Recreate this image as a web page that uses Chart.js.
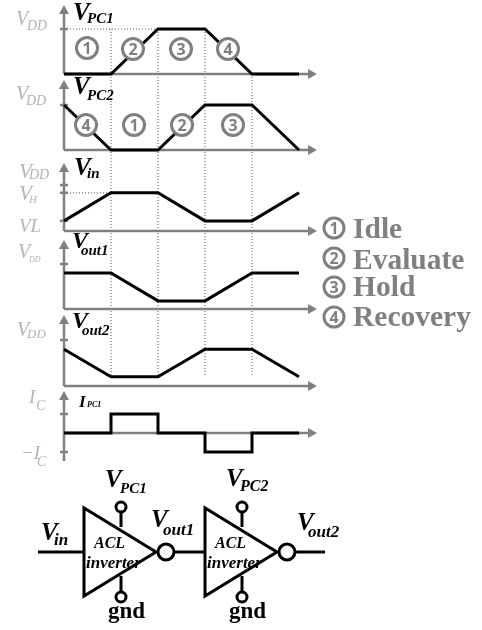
<!DOCTYPE html>
<html>
<head>
<meta charset="utf-8">
<style>
  html, body { margin: 0; padding: 0; background: #fff; }
  canvas { display: block; }
</style>
<script src="https://cdn.jsdelivr.net/npm/chart.js@4/dist/chart.umd.min.js"></script>
</head>
<body>
<canvas id="timing" width="482" height="630"></canvas>
<script>
// phase boundaries
const times = [0, 1, 2, 3, 4, 5];

// waveforms, in units of VDD (IPC1 in units of IC)
const vpc1 = [0, 0, 1, 1, 0, 0];
const vpc2 = [1, 0, 0, 1, 1, 0];
const vin = [0.22, 0.83, 0.83, 0.22, 0.22, 0.83];
const vout1 = [0.8, 0.8, 0.18, 0.18, 0.8, 0.8];
const vout2 = [0.8, 0.2, 0.2, 0.8, 0.8, 0.2];
const ipc1 = [0, 1, 0, -1, 0, 0];

const vinTicks = [1, 0.83, 0.22];
const currentTicks = [1, -1];

const W = 482, H = 630;
const GREY = '#808080', LIGHT = '#b4b4b4', BLACK = '#000';
const SERIF = '"Liberation Serif", serif';
const SANS = '"Open Sans", sans-serif';

// where each panel sits on the page: baseline px, px per unit, top of the arrow
const panels = {
  y1: { base: 74, unit: 45, top: 5, ticks: [1] },
  y2: { base: 150, unit: 45, top: 80, ticks: [1] },
  y3: { base: 231, unit: 46, top: 163, ticks: vinTicks },
  y4: { base: 309, unit: 45, top: 240, ticks: [1] },
  y5: { base: 386, unit: 46, top: 315, ticks: [1] },
  y6: { base: 433, unit: 19, top: 391, bottom: 461, ticks: currentTicks }
};

function yScale(p) {
  return { display: false, min: (p.base - H) / p.unit, max: p.base / p.unit };
}

function wave(values, yAxisID, stepped) {
  return {
    data: times.map((t, i) => ({ x: t, y: values[i] })),
    yAxisID: yAxisID,
    stepped: stepped || false,
    borderColor: BLACK,
    borderWidth: 3,
    borderJoinStyle: 'miter',
    borderCapStyle: 'butt',
    pointRadius: 0,
    fill: false,
    tension: 0
  };
}

// [main, sub, x, baseline, main font, sub font, sub dx, sub dy, colour]
const BI = 'italic bold ', IT = 'italic ';
const labels = [
  ['V', 'DD', 16, 25, IT + '20px', IT + '14px', 11, 5, LIGHT],
  ['V', 'PC1', 73, 20, BI + '25px', BI + '15px', 14, 3, BLACK],
  ['V', 'DD', 16, 100, IT + '20px', IT + '14px', 10, 5, LIGHT],
  ['V', 'PC2', 73, 94, BI + '25px', BI + '15px', 14, 6, BLACK],
  ['V', 'DD', 19, 178, IT + '21px', IT + '14px', 10, 1, LIGHT],
  ['V', 'H', 19, 200, IT + '21px', IT + '11px', 10, 3, LIGHT],
  ['VL', '', 19, 232, IT + '19px', '', 0, 0, LIGHT],
  ['V', 'in', 74, 175, BI + '25px', BI + '15px', 13, 3, BLACK],
  ['V', 'DD', 18, 258, IT + '20px', IT + '8px', 11, 4, LIGHT],
  ['V', 'out1', 72, 248, BI + '24px', BI + '15px', 9, 7, BLACK],
  ['V', 'DD', 17, 336, IT + '20px', IT + '13px', 10, 2, LIGHT],
  ['V', 'out2', 72, 328, BI + '24px', BI + '15px', 10, 7, BLACK],
  ['I', 'C', 29, 403, IT + '19px', IT + '14px', 7, 7, LIGHT],
  ['\u2212I', 'C', 21, 459, IT + '19px', IT + '14px', 16, 7, LIGHT],
  ['I', 'PC1', 79, 407, BI + '17px', BI + '8px', 8, 0, BLACK],
  // schematic
  ['V', 'PC1', 105, 487, BI + '25px', BI + '15px', 15, 6, BLACK],
  ['V', 'PC2', 226, 486, BI + '25px', BI + '16px', 14, 5, BLACK],
  ['V', 'in', 41, 540, BI + '25px', BI + '17px', 13, 5, BLACK],
  ['V', 'out1', 151, 527, BI + '25px', BI + '17px', 12, 8, BLACK],
  ['V', 'out2', 297, 530, BI + '25px', BI + '17px', 11, 7, BLACK],
  ['ACL', '', 94, 548, BI + '16px', '', 0, 0, BLACK],
  ['ACL', '', 215, 548, BI + '16px', '', 0, 0, BLACK],
  ['inverter', '', 86, 568, BI + '17px', '', 0, 0, BLACK],
  ['inverter', '', 207, 568, BI + '17px', '', 0, 0, BLACK],
  ['gnd', '', 108, 618, 'bold 23px', '', 0, 0, BLACK],
  ['gnd', '', 229, 618, 'bold 23px', '', 0, 0, BLACK]
];

// circled phase numbers: [number, cx, cy, radius]
const phaseMarks = [
  ['1', 87, 48, 10.5], ['2', 133, 49, 10.5], ['3', 181, 49, 10.5], ['4', 228, 49, 10.5],
  ['4', 86, 125, 10.5], ['1', 134, 125, 10.5], ['2', 182, 125, 10.5], ['3', 233, 125, 10.5],
  ['1', 334, 228, 10], ['2', 334, 258, 10], ['3', 334, 287, 10], ['4', 334, 317, 10]
];

const legendNames = ['Idle', 'Evaluate', 'Hold', 'Recovery'];
const legendBaselines = [238, 269, 296, 326];

function segment(ctx, x0, y0, x1, y1) {
  ctx.beginPath();
  ctx.moveTo(x0, y0);
  ctx.lineTo(x1, y1);
  ctx.stroke();
}

function arrowHead(ctx, x, y, dx, dy) {
  ctx.beginPath();
  ctx.moveTo(x, y);
  ctx.lineTo(x - dx * 9 - dy * 5, y - dy * 9 - dx * 5);
  ctx.lineTo(x - dx * 9 + dy * 5, y - dy * 9 + dx * 5);
  ctx.closePath();
  ctx.fill();
}

const axesPlugin = {
  id: 'axes',
  beforeDatasetsDraw(chart) {
    const ctx = chart.ctx, x = chart.scales.x;
    const x0 = x.getPixelForValue(0);
    ctx.save();
    // dotted phase guides
    ctx.strokeStyle = '#555';
    ctx.lineWidth = 1;
    ctx.setLineDash([1, 2]);
    const yTop = chart.scales.y1.getPixelForValue(1);
    const yEnd = chart.scales.y5.getPixelForValue(0.2);
    [1, 2, 3].forEach(t => segment(ctx, x.getPixelForValue(t), yTop, x.getPixelForValue(t), yEnd));
    segment(ctx, x.getPixelForValue(4), chart.scales.y1.getPixelForValue(0), x.getPixelForValue(4), yEnd);
    segment(ctx, x0, yTop, x.getPixelForValue(2), yTop);
    const yH = chart.scales.y3.getPixelForValue(vin[1]);
    segment(ctx, x0, yH, x.getPixelForValue(1), yH);
    ctx.setLineDash([]);
    // panel axes
    ctx.strokeStyle = GREY;
    ctx.fillStyle = GREY;
    ctx.lineWidth = 2.5;
    const xEnd = 317;
    Object.keys(panels).forEach(id => {
      const p = panels[id], s = chart.scales[id];
      const base = s.getPixelForValue(0);
      segment(ctx, x0, p.top + 5, x0, p.bottom || base);
      segment(ctx, x0, base, xEnd - 5, base);
      arrowHead(ctx, x0, p.top, 0, -1);
      arrowHead(ctx, xEnd, base, 1, 0);
      p.ticks.forEach(v => {
        const py = s.getPixelForValue(v);
        segment(ctx, x0 - 4, py, x0 + 4, py);
      });
    });
    ctx.restore();
  },
  afterDraw(chart) {
    const ctx = chart.ctx;
    ctx.save();
    ctx.textBaseline = 'alphabetic';
    // circled numbers
    phaseMarks.forEach(m => {
      ctx.beginPath();
      ctx.arc(m[1], m[2], m[3], 0, Math.PI * 2);
      ctx.fillStyle = '#fff';
      ctx.fill();
      ctx.strokeStyle = GREY;
      ctx.lineWidth = 3;
      ctx.stroke();
      ctx.fillStyle = GREY;
      ctx.font = 'bold 16px ' + SANS;
      ctx.textAlign = 'center';
      ctx.fillText(m[0], m[1], m[2] + 5.5);
    });
    ctx.textAlign = 'left';
    // phase names
    ctx.fillStyle = GREY;
    ctx.font = 'bold 29.5px ' + SERIF;
    legendNames.forEach((name, i) => ctx.fillText(name, 353, legendBaselines[i]));
    drawInverter(ctx, 84, 121);
    drawInverter(ctx, 205, 242);
    ctx.strokeStyle = BLACK;
    ctx.lineWidth = 3;
    segment(ctx, 38, 552, 84, 552);
    segment(ctx, 174, 552, 205, 552);
    segment(ctx, 295, 552, 325, 552);
    // text labels
    labels.forEach(l => {
      ctx.fillStyle = l[8];
      ctx.font = l[4] + ' ' + SERIF;
      ctx.fillText(l[0], l[2], l[3]);
      if (l[1]) {
        ctx.font = l[5] + ' ' + SERIF;
        ctx.fillText(l[1], l[2] + l[6], l[3] + l[7]);
      }
    });
    ctx.restore();
  }
};

// triangle, output bubble and supply pins of one ACL inverter
function drawInverter(ctx, left, pinX) {
  ctx.strokeStyle = BLACK;
  ctx.fillStyle = '#fff';
  ctx.lineWidth = 3;
  ctx.lineJoin = 'miter';
  segment(ctx, pinX, 512, pinX, 527);
  segment(ctx, pinX, 576, pinX, 592);
  ctx.beginPath();
  ctx.moveTo(left, 508);
  ctx.lineTo(left, 596);
  ctx.lineTo(left + 72, 552);
  ctx.closePath();
  ctx.stroke();
  [[left + 82, 552, 8], [pinX, 507, 5], [pinX, 597, 5]].forEach(c => {
    ctx.beginPath();
    ctx.arc(c[0], c[1], c[2], 0, Math.PI * 2);
    ctx.fill();
    ctx.stroke();
  });
}

new Chart(document.getElementById('timing'), {
  type: 'line',
  data: {
    datasets: [
      wave(vpc1, 'y1'),
      wave(vpc2, 'y2'),
      wave(vin, 'y3'),
      wave(vout1, 'y4'),
      wave(vout2, 'y5'),
      wave(ipc1, 'y6', true)
    ]
  },
  options: {
    responsive: false,
    animation: false,
    parsing: false,
    layout: { padding: 0 },
    plugins: { legend: { display: false }, tooltip: { enabled: false }, title: { display: false } },
    scales: {
      // 47 px per phase, t = 0 at x = 64
      x: { type: 'linear', display: false, min: -64 / 47, max: (W - 64) / 47 },
      y1: yScale(panels.y1),
      y2: yScale(panels.y2),
      y3: yScale(panels.y3),
      y4: yScale(panels.y4),
      y5: yScale(panels.y5),
      y6: yScale(panels.y6)
    }
  },
  plugins: [axesPlugin]
});
</script>
</body>
</html>
